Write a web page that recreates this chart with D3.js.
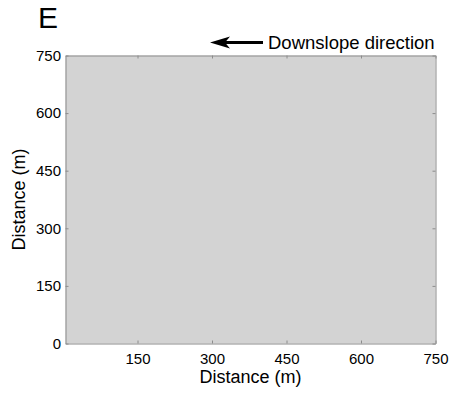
<!DOCTYPE html>
<html>
<head>
<meta charset="utf-8">
<script src="https://cdn.jsdelivr.net/npm/d3@7"></script>
<style>
  body { margin: 0; background: #fff; }
  text { font-family: "Liberation Sans", Arial, sans-serif; }
</style>
</head>
<body>
<div id="chart"></div>
<script>
// axis values
const xDomain = [5, 750];
const yDomain = [0, 750];
const xTicks = [150, 300, 450, 600, 750];
const yTicks = [0, 150, 300, 450, 600, 750];
const panelLabel = 'E';
const arrowLabel = 'Downslope direction';

const width = 452, height = 393;
const margin = {top: 55.5, right: 16.5, bottom: 49.5, left: 65.5};
const w = width - margin.left - margin.right;
const h = height - margin.top - margin.bottom;

const svg = d3.select('#chart').append('svg')
    .attr('width', width)
    .attr('height', height);

const g = svg.append('g')
    .attr('transform', `translate(${margin.left},${margin.top})`);

const xScale = d3.scaleLinear().domain(xDomain).range([0, w]);
const yScale = d3.scaleLinear().domain(yDomain).range([h, 0]);

// grey field
g.append('rect')
    .attr('x', xScale(xDomain[0]))
    .attr('y', yScale(yDomain[1]))
    .attr('width', xScale(xDomain[1]) - xScale(xDomain[0]))
    .attr('height', yScale(yDomain[0]) - yScale(yDomain[1]))
    .attr('fill', '#d3d3d3');

const axisColor = '#8c8c8c';

function styleAxis(sel) {
    sel.select('.domain').attr('stroke', axisColor);
    sel.selectAll('.tick line').attr('stroke', axisColor);
    sel.selectAll('.tick text')
        .attr('fill', '#000')
        .style('font-size', '15px');
}

// bottom
g.append('g')
    .attr('transform', `translate(0,${h})`)
    .call(d3.axisBottom(xScale).tickValues(xTicks).tickSizeInner(-3).tickSizeOuter(0).tickPadding(10))
    .call(styleAxis);
// top
g.append('g')
    .call(d3.axisTop(xScale).tickValues(xTicks).tickSizeInner(-3).tickSizeOuter(0).tickFormat(''))
    .call(styleAxis);
// left
g.append('g')
    .call(d3.axisLeft(yScale).tickValues(yTicks).tickSizeInner(-3).tickSizeOuter(0).tickPadding(4.5))
    .call(styleAxis);
// right
g.append('g')
    .attr('transform', `translate(${w},0)`)
    .call(d3.axisRight(yScale).tickValues(yTicks).tickSizeInner(-3).tickSizeOuter(0).tickFormat(''))
    .call(styleAxis);

// axis labels
svg.append('text')
    .attr('x', margin.left + w / 2)
    .attr('y', 383)
    .attr('text-anchor', 'middle')
    .style('font-size', '18px')
    .text('Distance (m)');

svg.append('text')
    .attr('transform', `translate(25,${margin.top + h / 2}) rotate(-90)`)
    .attr('text-anchor', 'middle')
    .style('font-size', '18px')
    .text('Distance (m)');

// panel letter
svg.append('text')
    .attr('x', 38)
    .attr('y', 27.5)
    .style('font-size', '30px')
    .text(panelLabel);

// arrow + text
const arrowY = 42.5;
svg.append('line')
    .attr('x1', 263).attr('y1', arrowY)
    .attr('x2', 224).attr('y2', arrowY)
    .attr('stroke', '#000')
    .attr('stroke-width', 3.2);

svg.append('path')
    .attr('d', `M210,${arrowY} L230,${arrowY - 6} L225,${arrowY} L230,${arrowY + 6} Z`)
    .attr('fill', '#000');

svg.append('text')
    .attr('x', 268)
    .attr('y', 48.5)
    .style('font-size', '18.5px')
    .text(arrowLabel);
</script>
</body>
</html>
